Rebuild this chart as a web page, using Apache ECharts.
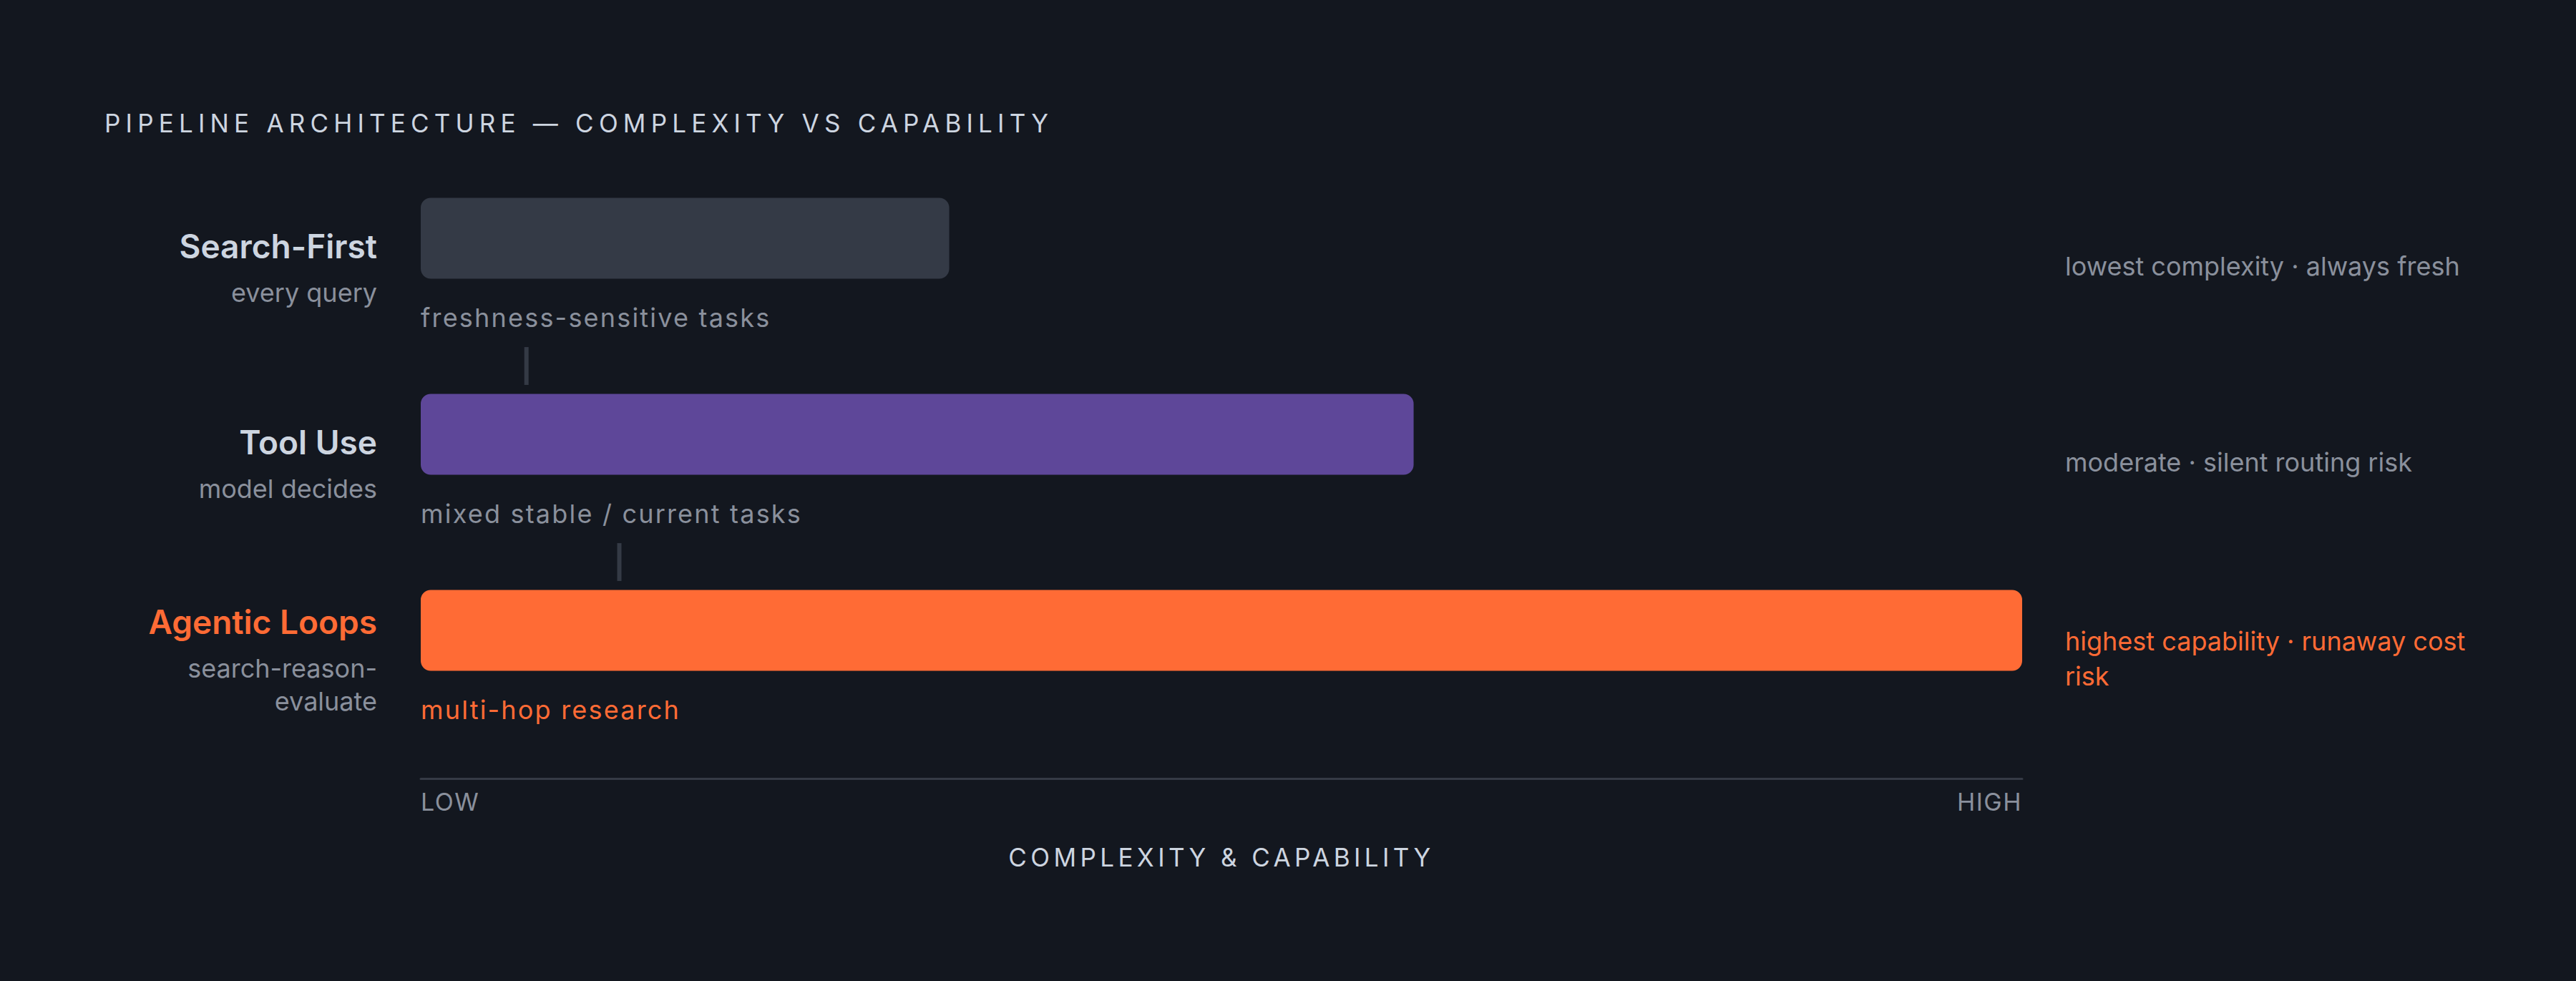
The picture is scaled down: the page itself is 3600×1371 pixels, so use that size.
<!DOCTYPE html>
<html><head><meta charset="utf-8">
<script src="https://cdn.jsdelivr.net/npm/echarts@6/dist/echarts.min.js"></script>
<style>html,body{margin:0;padding:0;background:#13171f;}#chart{width:3600px;height:1371px;}</style>
</head><body><div id="chart"></div>
<script>
const titleText = 'PIPELINE ARCHITECTURE — COMPLEXITY VS CAPABILITY';
const axisTitle = 'COMPLEXITY & CAPABILITY';
const categories = ['Search-First', 'Tool Use', 'Agentic Loops'];
const subtitles = ['every query', 'model decides', 'search-reason-\nevaluate'];
const values = [33, 62, 100];
const captions = ['freshness-sensitive tasks', 'mixed stable / current tasks', 'multi-hop research'];
const annotations = ['lowest complexity · always fresh', 'moderate · silent routing risk', 'highest capability · runaway cost risk'];
const connectorAt = [6.6, 12.4];
const tickLabels = ['LOW', 'HIGH'];
const barColors = ['#343a46', '#5e4799', '#ff6b35'];
const highlightIndex = 2;

const ORANGE = '#ff6b35', GRAY = '#8a909c', LIGHT = '#cdd5e0', FONT = 'Inter';

const chart = echarts.init(document.getElementById('chart'), null, { renderer: 'svg' });
chart.setOption({
  backgroundColor: '#13171f',
  animation: false,
  textStyle: { fontFamily: FONT },
  title: {
    text: titleText, left: 146, top: 154, padding: 0,
    textStyle: { fontSize: 35, fontWeight: 400, color: LIGHT, lineHeight: 35, fontFamily: FONT }
  },
  grid: { left: 588, width: 2238, top: 196, height: 822 },
  xAxis: {
    type: 'value', min: 0, max: 100, interval: 100, offset: 70,
    name: axisTitle, nameLocation: 'middle', nameGap: 92,
    nameTextStyle: { fontSize: 35, color: LIGHT, fontFamily: FONT, lineHeight: 35 },
    axisLine: { show: true, lineStyle: { color: '#353a45', width: 3 } },
    axisTick: { show: false }, splitLine: { show: false },
    axisLabel: {
      margin: 15, fontSize: 34, color: GRAY, lineHeight: 34, fontFamily: FONT,
      showMinLabel: true, showMaxLabel: true, alignMinLabel: 'left', alignMaxLabel: 'right',
      formatter: v => (v === 0 ? tickLabels[0] : tickLabels[1])
    }
  },
  yAxis: [{
    type: 'category', data: categories, inverse: true,
    axisLine: { show: false }, axisTick: { show: false },
    axisLabel: {
      interval: 0, margin: 61, align: 'right', padding: [68, 0, 0, 0],
      formatter: (v, i) => '{' + (i === highlightIndex ? 'ta' : 't') + '|' + v + '}\n{s|' + subtitles[i] + '}',
      rich: {
        t: { fontSize: 46, fontWeight: 600, color: LIGHT, lineHeight: 84, align: 'right', fontFamily: FONT },
        ta: { fontSize: 46, fontWeight: 600, color: ORANGE, lineHeight: 84, align: 'right', fontFamily: FONT },
        s: { fontSize: 36, color: GRAY, lineHeight: 46, align: 'right', fontFamily: FONT }
      }
    }
  }, {
    type: 'category', data: annotations, inverse: true, position: 'right',
    axisLine: { show: false }, axisTick: { show: false },
    axisLabel: {
      interval: 0, margin: 60, align: 'left', padding: [78, 0, 0, 0],
      width: 600, overflow: 'break',
      formatter: (v, i) => '{' + (i === highlightIndex ? 'o' : 'g') + '|' + v + '}',
      rich: {
        g: { fontSize: 36, lineHeight: 49, color: GRAY, fontFamily: FONT, align: 'left' },
        o: { fontSize: 36, lineHeight: 49, color: ORANGE, fontFamily: FONT, align: 'left' }
      }
    }
  }],
  series: [{
    type: 'bar', yAxisIndex: 0, barWidth: 113,
    data: values.map((v, i) => ({
      value: v,
      itemStyle: { color: barColors[i], borderRadius: 14 },
      label: { color: i === highlightIndex ? ORANGE : GRAY }
    })),
    label: {
      show: true, position: [0, '100%'], align: 'left', verticalAlign: 'top', offset: [0, 31],
      fontSize: 36, lineHeight: 46, fontFamily: FONT,
      formatter: p => captions[p.dataIndex]
    }
  }, {
    type: 'custom', yAxisIndex: 0,
    data: connectorAt.map((x, i) => [x, i]),
    encode: { x: 0, y: 1 },
    renderItem: (params, api) => {
      const p = api.coord([api.value(0), api.value(1)]);
      const band = api.size([0, 1])[1];
      return {
        type: 'line',
        shape: { x1: p[0], y1: p[1] + band * 0.555, x2: p[0], y2: p[1] + band * 0.748 },
        style: { stroke: '#343a45', lineWidth: 6 }
      };
    }
  }]
});

const spacing = {};
spacing[titleText] = '7.2px';
spacing[axisTitle] = '5.4px';
captions.forEach(c => { spacing[c] = '2.2px'; });
tickLabels.forEach(c => { spacing[c] = '1.5px'; });
chart.getDom().querySelectorAll('text').forEach(t => {
  if (spacing[t.textContent]) t.style.letterSpacing = spacing[t.textContent];
});
</script>
</body></html>
